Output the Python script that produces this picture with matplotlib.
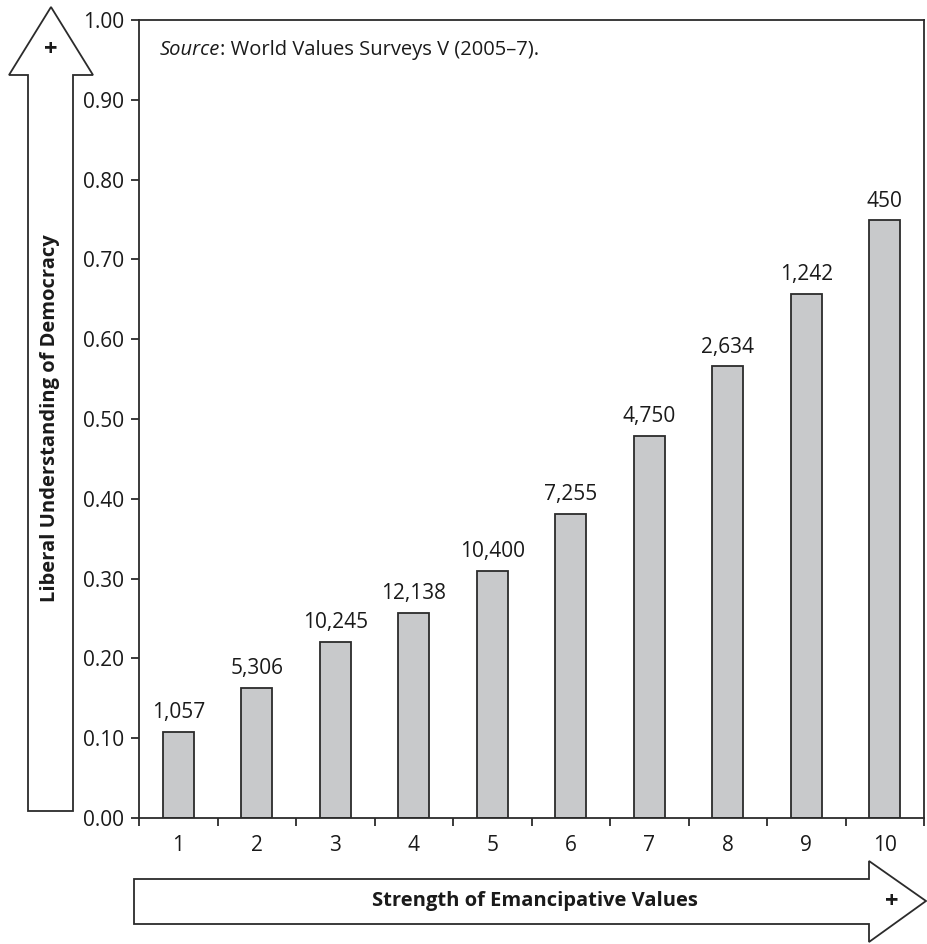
import matplotlib.pyplot as plt
from matplotlib.patches import Polygon

plt.rcParams['font.family'] = ['Open Sans', 'DejaVu Sans']

# data
categories = [1, 2, 3, 4, 5, 6, 7, 8, 9, 10]
values = [0.108, 0.163, 0.221, 0.257, 0.310, 0.381, 0.479, 0.566, 0.657, 0.749]
counts = ['1,057', '5,306', '10,245', '12,138', '10,400',
          '7,255', '4,750', '2,634', '1,242', '450']
y_ticks = [0.0, 0.1, 0.2, 0.3, 0.4, 0.5, 0.6, 0.7, 0.8, 0.9, 1.0]

W, H = 927, 944
fig = plt.figure(figsize=(W / 100, H / 100), dpi=100)
edge = '#2b2b2b'
ink = '#1a1a1a'

# main axes, placed in pixel terms
ax = fig.add_axes([139 / W, 1 - 818 / H, (924 - 139) / W, (818 - 20) / H])
ax.bar(categories, values, width=0.4, color='#c8c9cb', edgecolor=edge, linewidth=1.3)
for x, v, c in zip(categories, values, counts):
    ax.text(x, v + 0.011, c, ha='center', va='bottom', fontsize=15, color=ink)

ax.set_xlim(0.5, 10.5)
ax.set_ylim(0, 1.0)
ax.set_yticks(y_ticks)
ax.set_yticklabels([f'{t:.2f}' for t in y_ticks], fontsize=15, color=ink)
ax.set_xticks([i + 0.5 for i in range(11)])
ax.set_xticklabels([])
ax.set_xticks(categories, minor=True)
ax.set_xticklabels([str(c) for c in categories], minor=True, fontsize=15, color=ink)
ax.tick_params(axis='x', which='major', length=6, width=1.3, color=edge)
ax.tick_params(axis='x', which='minor', length=0, pad=12)
ax.tick_params(axis='y', length=6, width=1.3, color=edge, pad=5)
for s in ax.spines.values():
    s.set_color(edge)
    s.set_linewidth(1.3)

src = ax.text(21 / 785, 1 - 30 / 798, 'Source', transform=ax.transAxes, fontsize=14.5,
              style='italic', va='center', color=ink)
ax.annotate(': World Values Surveys V (2005\u20137).', xycoords=src, xy=(1, 0.5),
            va='center', fontsize=14.5, color=ink)

# overlay for the arrows, in pixel coordinates
ov = fig.add_axes([0, 0, 1, 1], zorder=-1)
ov.set_xlim(0, W)
ov.set_ylim(H, 0)
ov.axis('off')

up = [(28, 811), (28, 75), (9, 75), (51, 7), (93, 75), (73, 75), (73, 811)]
ov.add_patch(Polygon(up, closed=True, facecolor='white', edgecolor=edge, linewidth=1.3))
ov.text(51, 50, '+', ha='center', va='center', fontsize=17, fontweight='bold', color=ink)
ov.text(50, 418, 'Liberal Understanding of Democracy', rotation=90, ha='center',
        va='center', fontsize=14.5, fontweight='bold', color=ink)

right = [(134, 879), (869, 879), (869, 861), (926, 901), (869, 942), (869, 924), (134, 924)]
ov.add_patch(Polygon(right, closed=True, facecolor='white', edgecolor=edge, linewidth=1.3))
ov.text(892, 902, '+', ha='center', va='center', fontsize=17, fontweight='bold', color=ink)
ov.text(535, 901, 'Strength of Emancipative Values', ha='center', va='center',
        fontsize=14.5, fontweight='bold', color=ink)

fig.savefig('out.png', dpi=100)
